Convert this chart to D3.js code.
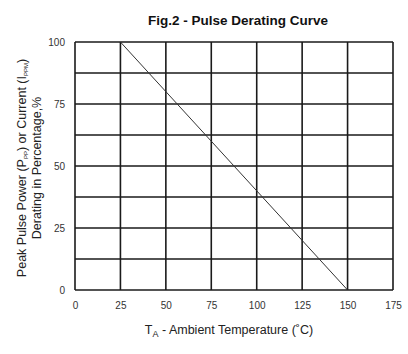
<!DOCTYPE html>
<html><head><meta charset="utf-8">
<script src="https://cdn.jsdelivr.net/npm/d3@7"></script>
<style>body{margin:0;background:#fff}svg{display:block}text{font-family:"Liberation Sans",Arial,sans-serif}</style>
</head><body><svg id="c" width="408" height="354"></svg>
<script>
const xTicks = [0, 25, 50, 75, 100, 125, 150, 175];
const yTicks = [0, 25, 50, 75, 100];
const yGrid = [0, 12.5, 25, 37.5, 50, 62.5, 75, 87.5, 100];
const curveTemp = [25, 150];
const curvePct = [100, 0];

const svg = d3.select("#c");
const m = {l: 75, r: 15, t: 42, b: 64};
const W = 408, H = 354;
const x = d3.scaleLinear().domain([0, 175]).range([m.l, W - m.r]);
const y = d3.scaleLinear().domain([0, 100]).range([H - m.b, m.t]);

svg.append("text").attr("x", 238).attr("y", 25).attr("text-anchor", "middle")
  .attr("font-size", 13.5).attr("font-weight", "bold").attr("fill", "#111")
  .text("Fig.2  - Pulse Derating Curve");

const g = svg.append("g");
g.selectAll(".vg").data(xTicks).join("line")
  .attr("x1", d => x(d)).attr("x2", d => x(d)).attr("y1", y(0)).attr("y2", y(100))
  .attr("stroke", "#1a1a1a").attr("stroke-width", 1.6);
g.selectAll(".hg").data(yGrid).join("line")
  .attr("y1", d => y(d)).attr("y2", d => y(d)).attr("x1", x(0)).attr("x2", x(175))
  .attr("stroke", "#1a1a1a").attr("stroke-width", 1.6);

const pts = curveTemp.map((t, i) => [t, curvePct[i]]);
g.append("path").datum(pts)
  .attr("d", d3.line().x(d => x(d[0])).y(d => y(d[1])))
  .attr("fill", "none").attr("stroke", "#333").attr("stroke-width", 1);

const xAxis = svg.append("g").attr("transform", `translate(0,${y(0)})`)
  .call(d3.axisBottom(x).tickValues(xTicks).tickSize(0).tickPadding(12));
xAxis.select(".domain").remove();
xAxis.selectAll("text").attr("font-size", 10).attr("fill", "#333").attr("font-family", "Liberation Sans, Arial, sans-serif");

const yAxis = svg.append("g").attr("transform", `translate(${x(0)},0)`)
  .call(d3.axisLeft(y).tickValues(yTicks).tickSize(0).tickPadding(10));
yAxis.select(".domain").remove();
yAxis.selectAll("text").attr("font-size", 10).attr("fill", "#333").attr("font-family", "Liberation Sans, Arial, sans-serif");

const xl = svg.append("text").attr("x", 229).attr("y", 334).attr("text-anchor", "middle")
  .attr("font-size", 12.5).attr("fill", "#222");
xl.append("tspan").text("T");
xl.append("tspan").attr("font-size", 9).attr("dy", 3).text("A");
xl.append("tspan").attr("dy", -3).text(" - Ambient Temperature (\u02DAC)");

const yl = svg.append("g").attr("transform", "translate(0,168) rotate(-90)");
const l1 = yl.append("text").attr("x", 0).attr("y", 26).attr("text-anchor", "middle")
  .attr("font-size", 12.5).attr("fill", "#222");
l1.append("tspan").text("Peak Pulse Power (P");
l1.append("tspan").attr("font-size", 6).attr("dy", 2).text("PP");
l1.append("tspan").attr("dy", -2).text(") or Current (I");
l1.append("tspan").attr("font-size", 6).attr("dy", 2).text("PPM");
l1.append("tspan").attr("dy", -2).text(")");
yl.append("text").attr("x", 0).attr("y", 41).attr("text-anchor", "middle")
  .attr("font-size", 12.5).attr("fill", "#222").text("Derating in Percentage,%");
</script></body></html>
